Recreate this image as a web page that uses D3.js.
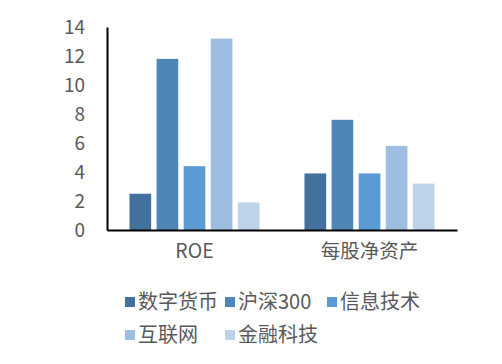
<!DOCTYPE html>
<html>
<head>
<meta charset="utf-8">
<script src="https://cdn.jsdelivr.net/npm/d3@7"></script>
<style>
	body { margin: 0; background: #fff; }
	text { font-family: "Noto Sans CJK SC", "Noto Sans", sans-serif; fill: #595959; }
</style>
</head>
<body>
<div id="chart"></div>
<script>
var width = 502;
var height = 364;

// data
var categories = ["ROE", "每股净资产"];
var series = ["数字货币", "沪深300", "信息技术", "互联网", "金融科技"];
var values = [
	[2.5, 3.9],   // 数字货币
	[11.8, 7.6],  // 沪深300
	[4.4, 3.9],   // 信息技术
	[13.2, 5.8],  // 互联网
	[1.9, 3.2]    // 金融科技
];
var yTicks = [0, 2, 4, 6, 8, 10, 12, 14];

var colors = ["#41719c", "#4f86b9", "#5b9bd5", "#9dbde1", "#bed2ea"];

var plotLeft = 107, plotRight = 457, plotTop = 27, plotBottom = 230;

var svg = d3.select("#chart")
	.append("svg")
	.attr("width", width)
	.attr("height", height);

var x0 = d3.scaleBand().domain(categories).range([plotLeft, plotRight]);
var x1 = d3.scaleBand().domain(series).range([0, x0.bandwidth()])
	.paddingInner(0.2).paddingOuter(0.83);
var y = d3.scaleLinear().domain([0, 14]).range([plotBottom, plotTop]);

// bars
var rows = [];
categories.forEach(function(c, ci) {
	series.forEach(function(s, si) {
		rows.push({cat: c, ser: s, si: si, v: values[si][ci]});
	});
});

svg.append("g").selectAll("rect").data(rows)
	.enter().append("rect")
	.attr("x", function(d) { return x0(d.cat) + x1(d.ser); })
	.attr("y", function(d) { return y(d.v); })
	.attr("width", x1.bandwidth())
	.attr("height", function(d) { return plotBottom - y(d.v); })
	.style("fill", function(d) { return colors[d.si]; });

// y axis
var yAxis = svg.append("g")
	.attr("transform", "translate(" + plotLeft + ",0)")
	.call(d3.axisLeft(y).tickValues(yTicks).tickSize(0).tickPadding(22));
yAxis.select(".domain").attr("stroke", "#000").attr("stroke-width", 2);
yAxis.selectAll("text").style("font-size", "19px").attr("fill", "#595959");

// x axis
var xAxis = svg.append("g")
	.attr("transform", "translate(0," + plotBottom + ")")
	.call(d3.axisBottom(x0).tickSize(0).tickPadding(14));
xAxis.select(".domain").attr("stroke", "#000").attr("stroke-width", 2);
xAxis.selectAll("text").style("font-size", "19.5px").attr("fill", "#595959");

// legend
var legendPos = [
	{x: 125, y: 302}, {x: 225, y: 302}, {x: 327, y: 302},
	{x: 125, y: 335}, {x: 225, y: 335}
];
var legend = svg.append("g").selectAll("g").data(series)
	.enter().append("g")
	.attr("transform", function(d, i) {
		return "translate(" + legendPos[i].x + "," + legendPos[i].y + ")";
	});
legend.append("rect")
	.attr("x", 0).attr("y", -5)
	.attr("width", 10).attr("height", 10)
	.style("fill", function(d, i) { return colors[i]; });
legend.append("text")
	.attr("x", 13)
	.attr("dy", "0.35em")
	.style("font-size", "20px")
	.text(function(d) { return d; });
</script>
</body>
</html>
